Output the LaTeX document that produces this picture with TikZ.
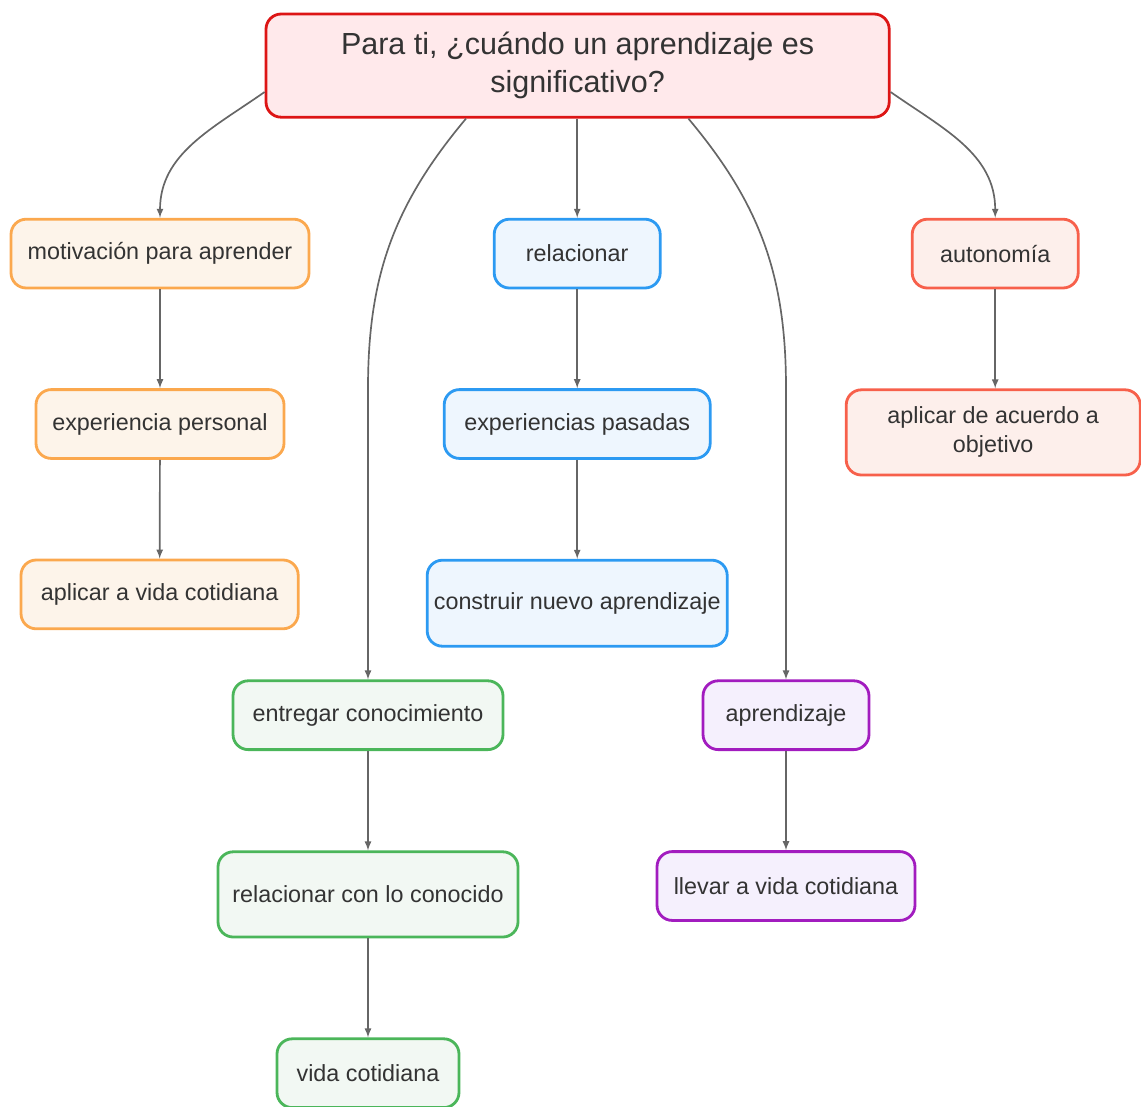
\documentclass[tikz,border=0pt]{standalone}
\usepackage{fontspec}
\setmainfont{Liberation Sans}
\usepackage{tikz}
\usetikzlibrary{calc}

\definecolor{txt}{HTML}{333333}
\definecolor{linkgray}{HTML}{666666}
\definecolor{redline}{HTML}{DD1515}
\definecolor{redfill}{HTML}{FFE9EB}
\definecolor{orangeline}{HTML}{FBA84E}
\definecolor{orangefill}{HTML}{FDF4EA}
\definecolor{blueline}{HTML}{2C9AF2}
\definecolor{bluefill}{HTML}{EEF6FE}
\definecolor{salmonline}{HTML}{F7604B}
\definecolor{salmonfill}{HTML}{FDEFEB}
\definecolor{greenline}{HTML}{4BB65A}
\definecolor{greenfill}{HTML}{F2F8F3}
\definecolor{purpleline}{HTML}{A21CBF}
\definecolor{purplefill}{HTML}{F5F0FD}

\begin{document}
\begin{tikzpicture}[
  box/.style={draw, rounded corners=0.38cm, line width=2pt, text=txt,
    font=\fontsize{16.6}{20.6}\selectfont, align=center, inner sep=2pt,
    minimum height=1.72cm},
  orangebox/.style={box, draw=orangeline, fill=orangefill},
  bluebox/.style={box, draw=blueline, fill=bluefill},
  salmonbox/.style={box, draw=salmonline, fill=salmonfill},
  greenbox/.style={box, draw=greenline, fill=greenfill},
  purplebox/.style={box, draw=purpleline, fill=purplefill},
  link/.style={draw=linkgray, line width=1.2pt, -latex}
]
\useasboundingbox (0,0) rectangle (28.525,-27.65);

% Question
\node[box, draw=redline, fill=redfill, minimum width=15.58cm, minimum height=2.58cm,
  font=\fontsize{21.7}{27}\selectfont] (title) at (14.44,-1.64)
  {Para ti, ¿cuándo un aprendizaje es\\significativo?};

% Left branch
\node[orangebox, minimum width=7.45cm] (mot) at (4.0,-6.34) {motivación para aprender};
\node[orangebox, minimum width=6.2cm] (exp) at (4.0,-10.6) {experiencia personal};
\node[orangebox, minimum width=6.93cm] (apl) at (3.99,-14.86) {aplicar a vida cotidiana};

% Middle branch
\node[bluebox, minimum width=4.15cm] (rel) at (14.43,-6.34) {relacionar};
\node[bluebox, minimum width=6.65cm] (pas) at (14.43,-10.6) {experiencias pasadas};
\node[bluebox, minimum width=7.5cm, minimum height=2.15cm] (con) at (14.43,-15.08) {construir nuevo aprendizaje};

% Right branch
\node[salmonbox, minimum width=4.15cm] (aut) at (24.88,-6.34) {autonomía};
\node[salmonbox, minimum width=7.35cm, minimum height=2.13cm] (obj) at (24.83,-10.81) {aplicar de acuerdo a\\objetivo};

% Lower left branch
\node[greenbox, minimum width=6.75cm] (ent) at (9.2,-17.88) {entregar conocimiento};
\node[greenbox, minimum width=7.5cm, minimum height=2.13cm] (relc) at (9.2,-22.36) {relacionar con lo conocido};
\node[greenbox, minimum width=4.55cm] (vida) at (9.2,-26.83) {vida cotidiana};

% Lower right branch
\node[purplebox, minimum width=4.15cm] (apr) at (19.65,-17.88) {aprendizaje};
\node[purplebox, minimum width=6.45cm] (lle) at (19.65,-22.15) {llevar a vida cotidiana};

% Links from the question
\draw[link] ([yshift=-0.66cm]title.west) to[out=-145,in=90] (mot.north);
\draw[link] ([yshift=-0.66cm]title.east) to[out=-35,in=90] (aut.north);
\draw[link] (title.south -| rel) -- (rel.north);
\draw[link] ([xshift=-2.79cm]title.south) to[out=-130,in=90] (ent.north |- exp.north) -- (ent.north);
\draw[link] ([xshift=2.77cm]title.south) to[out=-50,in=90] (apr.north |- exp.north) -- (apr.north);

% Chains
\draw[link] (mot) -- (exp);
\draw[link] (exp) -- (apl);
\draw[link] (rel) -- (pas);
\draw[link] (pas) -- (con);
\draw[link] (aut) -- (aut |- obj.north);
\draw[link] (ent) -- (relc);
\draw[link] (relc) -- (vida);
\draw[link] (apr) -- (lle);
\end{tikzpicture}
\end{document}
